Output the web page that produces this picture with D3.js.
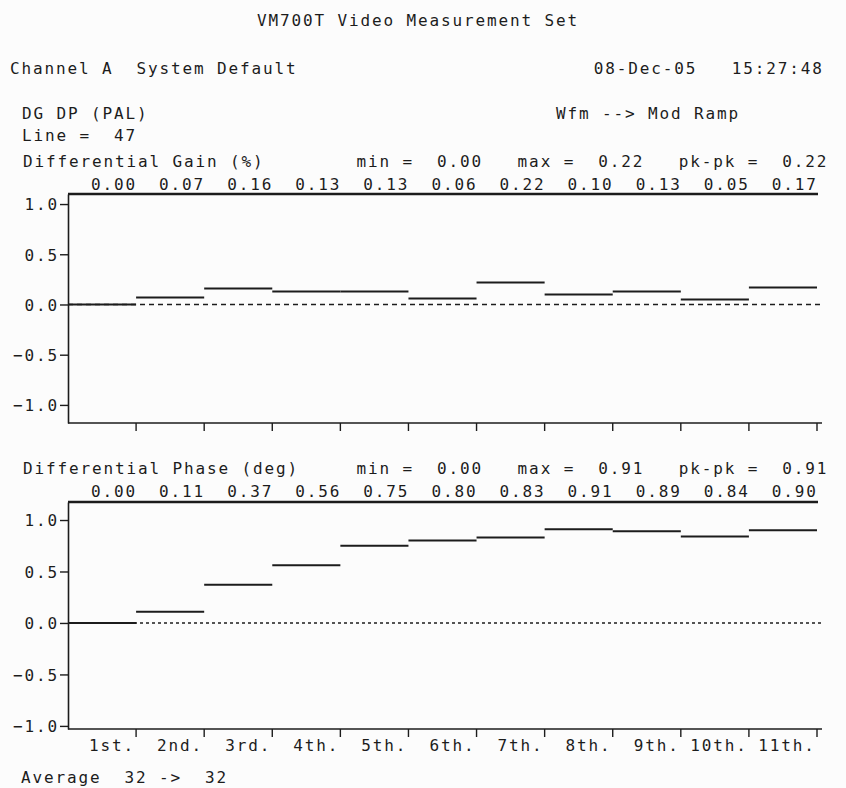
<!DOCTYPE html>
<html>
<head>
<meta charset="utf-8">
<script src="https://cdn.jsdelivr.net/npm/d3@7"></script>
<style>
  html, body { margin: 0; padding: 0; background: #fcfcfc; }
  svg text { font-family: "DejaVu Sans Mono", monospace; font-size: 16px; letter-spacing: 1.87px; fill: #1c1c1c; }
</style>
</head>
<body>
<svg id="chart" width="846" height="788"></svg>
<script>
const categories = ["1st.", "2nd.", "3rd.", "4th.", "5th.", "6th.", "7th.", "8th.", "9th.", "10th.", "11th."];
const gainValues = [0.00, 0.07, 0.16, 0.13, 0.13, 0.06, 0.22, 0.10, 0.13, 0.05, 0.17];
const phaseValues = [0.00, 0.11, 0.37, 0.56, 0.75, 0.80, 0.83, 0.91, 0.89, 0.84, 0.90];
const yTicks = [-1.0, -0.5, 0.0, 0.5, 1.0];
const gainStats = { min: "0.00", max: "0.22", pkpk: "0.22" };
const phaseStats = { min: "0.00", max: "0.91", pkpk: "0.91" };

const svg = d3.select("#chart");
const ink = "#1c1c1c";
const LS = 1.87;

svg.append("rect").attr("width", 846).attr("height", 788).attr("fill", "#fcfcfc");

function txt(x, y, s, anchor) {
  svg.append("text").attr("x", x).attr("y", y)
    .attr("text-anchor", anchor || "start")
    .attr("xml:space", "preserve")
    .style("white-space", "pre")
    .text(s);
}

// Header texts
txt(257, 26, "VM700T Video Measurement Set");
txt(10, 74, "Channel A  System Default");
txt(822 + LS, 74, "08-Dec-05   15:27:48", "end");
txt(22, 119, "DG DP (PAL)");
txt(556, 119, "Wfm --> Mod Ramp");
txt(22, 141, "Line =  47");

const x = d3.scaleBand().domain(categories).range([68, 817]).padding(0);

function panel(opts) {
  const { title, stats, values, yDomain, yRange, titleY, valY, dash, showCats } = opts;
  const y = d3.scaleLinear().domain(yDomain).range(yRange);
  const top = yRange[1], bottom = yRange[0];
  const g = svg.append("g");

  const head = title.padEnd(29, " ") + "min =  " + stats.min + "   max =  " + stats.max + "   pk-pk =  " + stats.pkpk;
  txt(23, titleY, head);

  // values row
  g.selectAll("text.val").data(values).enter().append("text")
    .attr("class", "val")
    .attr("x", (d, i) => x(categories[i]) + x.bandwidth() + LS - 1)
    .attr("y", valY)
    .attr("text-anchor", "end")
    .text(d => d.toFixed(2));

  // top border
  g.append("line").attr("x1", 68).attr("x2", 818).attr("y1", top).attr("y2", top)
    .attr("stroke", ink).attr("stroke-width", 2.4);
  // bottom border
  g.append("line").attr("x1", 68).attr("x2", 822).attr("y1", bottom).attr("y2", bottom)
    .attr("stroke", ink).attr("stroke-width", 1.6);

  // left axis
  const ax = d3.axisLeft(y).tickValues(yTicks).tickFormat(d3.format(".1f"))
    .tickSize(8).tickSizeOuter(0).tickPadding(1);
  const axG = g.append("g").attr("transform", "translate(68,0)").call(ax);
  axG.select(".domain").attr("stroke", ink).attr("stroke-width", 1.6);
  axG.selectAll(".tick line").attr("stroke", ink).attr("stroke-width", 1.4);
  axG.selectAll(".tick text").attr("font-family", null).attr("font-size", null)
    .attr("dy", "0.36em").style("fill", ink);

  // bottom ticks at band boundaries
  g.selectAll("line.bt").data(categories).enter().append("line")
    .attr("class", "bt")
    .attr("x1", d => x(d) + x.bandwidth()).attr("x2", d => x(d) + x.bandwidth())
    .attr("y1", bottom).attr("y2", bottom + 8)
    .attr("stroke", ink).attr("stroke-width", 1.4);

  // dashed zero line
  g.append("line").attr("x1", 68).attr("x2", 823).attr("y1", y(0)).attr("y2", y(0))
    .attr("stroke", ink).attr("stroke-width", 1.6).attr("stroke-dasharray", dash);

  // level segments
  g.selectAll("line.seg").data(values).enter().append("line")
    .attr("class", "seg")
    .attr("x1", (d, i) => x(categories[i]))
    .attr("x2", (d, i) => x(categories[i]) + x.bandwidth())
    .attr("y1", d => y(d)).attr("y2", d => y(d))
    .attr("stroke", ink).attr("stroke-width", 2);

  if (showCats) {
    g.selectAll("text.cat").data(categories).enter().append("text")
      .attr("class", "cat")
      .attr("x", d => x(d) + x.bandwidth() - 3 + LS)
      .attr("y", 751)
      .attr("text-anchor", "end")
      .text(d => d);
  }
}

panel({ title: "Differential Gain (%)", stats: gainStats, values: gainValues,
  yDomain: [-1.18, 1.1], yRange: [423, 194], titleY: 167, valY: 190, dash: "5,4", showCats: false });
panel({ title: "Differential Phase (deg)", stats: phaseStats, values: phaseValues,
  yDomain: [-1.03, 1.175], yRange: [729, 502], titleY: 474, valY: 497, dash: "3,3", showCats: true });

txt(21, 783, "Average  32 ->  32");
</script>
</body>
</html>
